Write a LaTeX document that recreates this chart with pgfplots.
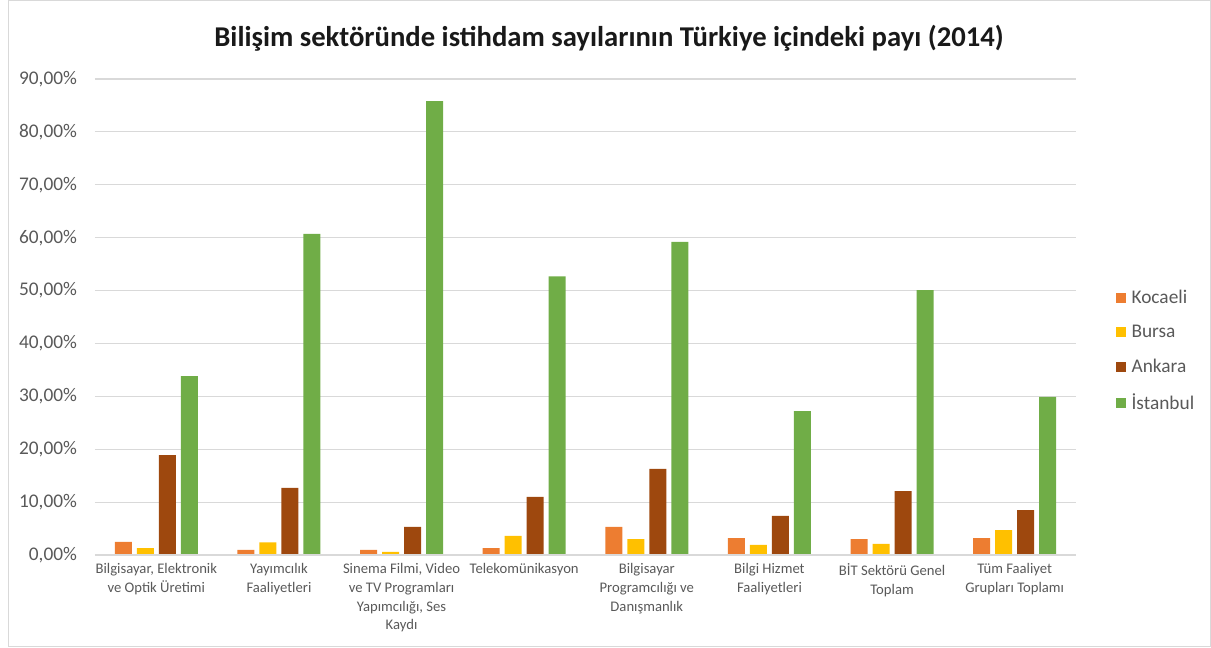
\documentclass[border=0pt]{standalone}
\usepackage{pgfplots}
\pgfplotsset{compat=1.18}
\usepackage{fontspec}
\setmainfont{Carlito}
\definecolor{cKoc}{HTML}{ED7D31}
\definecolor{cBur}{HTML}{FFC000}
\definecolor{cAnk}{HTML}{9E480E}
\definecolor{cIst}{HTML}{70AD47}
\definecolor{txt}{HTML}{595959}
\definecolor{grd}{HTML}{D9D9D9}
\begin{document}
\begin{tikzpicture}[x=0.75pt,y=0.75pt]
\path[use as bounding box] (0,0) rectangle (1211,647);
\draw[grd] (8,0.5) rectangle (1210.5,646.5);
\node[font=\fontsize{21.5}{25}\selectfont\bfseries, text=black!90] at (609,609) {Bilişim sektöründe istihdam sayılarının Türkiye içindeki payı (2014)};
\begin{axis}[
  at={(71.25pt,69pt)}, anchor=south west,
  scale only axis, width=735.75pt, height=357pt,
  xmin=-0.5, xmax=7.5, ymin=0, ymax=90,
  axis line style={draw=none},
  ymajorgrids, grid style={grd, line width=0.8pt},
  major tick length=0pt,
  ytick={0,10,...,90},
  yticklabels={{0,00\%},{10,00\%},{20,00\%},{30,00\%},{40,00\%},{50,00\%},{60,00\%},{70,00\%},{80,00\%},{90,00\%}},
  y tick label style={font=\fontsize{14.5}{17}\selectfont, text=txt, anchor=east, xshift=-10pt},
  xtick={0,...,7},
  xticklabels={{Bilgisayar, Elektronik\\ve Optik Üretimi},{Yayımcılık\\Faaliyetleri},{Sinema Filmi, Video\\ve TV Programları\\Yapımcılığı, Ses\\Kaydı},{Telekomünikasyon},{Bilgisayar\\Programcılığı ve\\Danışmanlık},{Bilgi Hizmet\\Faaliyetleri},{BİT Sektörü Genel\\Toplam},{Tüm Faaliyet\\Grupları Toplamı}},
  x tick label style={font=\fontsize{11}{14}\selectfont, text=txt, align=center, anchor=north, yshift=-3pt},
  ybar, bar width=0.139,
  legend style={at={(1.036,0.4286)}, anchor=west, draw=none, fill=none,
    font=\fontsize{14.5}{17}\selectfont, text=txt, row sep=10.5pt, cells={anchor=west}},
  legend image code/.code={\fill[#1] (0pt,-3.75pt) rectangle (7.5pt,3.75pt); \path (10pt,0pt);},
  every axis plot/.append style={draw=none},
]
\addplot[fill=cKoc, bar shift=-0.269] coordinates {(0,2.46) (1,0.95) (2,0.95) (3,1.3) (4,5.3) (5,3.2) (6,3.0) (7,3.2)};
\addplot[fill=cBur, bar shift=-0.0897] coordinates {(0,1.3) (1,2.4) (2,0.6) (3,3.6) (4,3.0) (5,1.9) (6,2.1) (7,4.7)};
\addplot[fill=cAnk, bar shift=0.0897] coordinates {(0,18.9) (1,12.7) (2,5.3) (3,11.0) (4,16.3) (5,7.4) (6,12.1) (7,8.5)};
\addplot[fill=cIst, bar shift=0.269] coordinates {(0,33.8) (1,60.7) (2,85.8) (3,52.7) (4,59.2) (5,27.2) (6,50.1) (7,29.9)};
\draw[grd, line width=0.8pt] (axis cs:-0.5,0) -- (axis cs:7.5,0);
\legend{Kocaeli,Bursa,Ankara,İstanbul}
\end{axis}
\end{tikzpicture}
\end{document}
